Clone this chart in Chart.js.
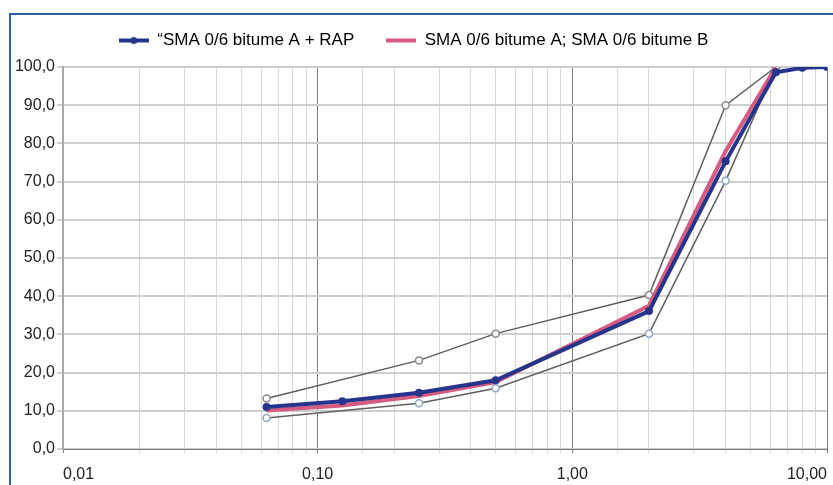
<!DOCTYPE html>
<html>
<head>
<meta charset="utf-8">
<script src="https://cdn.jsdelivr.net/npm/chart.js@4"></script>
<style>
  html, body { margin: 0; padding: 0; background: #fff; }
  #wrap { position: relative; width: 833px; height: 485px; overflow: hidden; }
  #frame { position: absolute; left: 9px; top: 13px; width: 900px; height: 600px;
           border-left: 2px solid #2a62a0; border-top: 2px solid #2a62a0; box-sizing: border-box; }
  canvas { position: absolute; left: 0; top: 0; }
</style>
</head>
<body>
<div id="wrap">
  <div id="frame"></div>
  <canvas id="c" width="833" height="485"></canvas>
</div>
<script>
// Sieve sizes (mm)
const sieves = [0.063, 0.125, 0.25, 0.5, 2, 4, 6.3, 8, 10];
const envSieves = [0.063, 0.25, 0.5, 2, 4, 6.3];

// Passing (%)
const rapMix = [11.0, 12.5, 14.7, 18.0, 36.1, 75.3, 98.6, 99.8, 100];
const bitumeAB = [10.1, 11.4, 13.9, 17.5, 37.5, 78.0, 100];
const upperEnv = [13.2, 23.2, 30.2, 40.3, 90.0, 100];
const lowerEnv = [8.1, 12.0, 15.9, 30.2, 70.2, 100];

const seriesNames = ['\u201cSMA 0/6 bitume A + RAP', 'SMA 0/6 bitume A; SMA 0/6 bitume B'];
const xTickLabels = { 0.01: '0,01', 0.1: '0,10', 1: '1,00', 10: '10,00' };

const toXY = (xs, ys) => ys.map((y, i) => ({ x: xs[i], y: y }));

function legendIcon(color, withDot) {
  const c = document.createElement('canvas');
  c.width = 30; c.height = 10;
  const g = c.getContext('2d');
  g.strokeStyle = color; g.lineWidth = 4;
  g.beginPath(); g.moveTo(0, 5); g.lineTo(30, 5); g.stroke();
  if (withDot) { g.fillStyle = color; g.beginPath(); g.arc(15, 5, 3.5, 0, Math.PI * 2); g.fill(); }
  return c;
}
const iconBlue = legendIcon('#27348b', true);
const iconPink = legendIcon('#d55b80', false);

const FONT = "'Liberation Sans', Arial, sans-serif";

const legendGap = {
  id: 'legendGap',
  afterInit(chart) {
    const lg = chart.legend;
    if (!lg) return;
    const orig = lg.fit.bind(lg);
    lg.fit = function () { orig(); this.height += 8; };
  }
};

new Chart(document.getElementById('c'), {
  type: 'line',
  plugins: [legendGap],
  data: {
    datasets: [
      {
        label: seriesNames[0],
        data: toXY(sieves, rapMix),
        borderColor: '#27348b', backgroundColor: '#27348b',
        borderWidth: 4, pointRadius: 4, pointBackgroundColor: '#27348b', pointBorderWidth: 0,
        order: 1
      },
      {
        label: seriesNames[1],
        data: toXY(sieves, bitumeAB),
        borderColor: '#d55b80', backgroundColor: '#d55b80',
        borderWidth: 4, pointRadius: 0,
        order: 2
      },
      {
        label: 'upper',
        data: toXY(envSieves, upperEnv),
        borderColor: '#5f5f5f', borderWidth: 1.5,
        pointRadius: 3.5, pointBackgroundColor: '#ffffff', pointBorderColor: '#8a8a8a', pointBorderWidth: 1.5,
        order: 3
      },
      {
        label: 'lower',
        data: toXY(envSieves, lowerEnv),
        borderColor: '#5f5f5f', borderWidth: 1.5,
        pointRadius: 3.5, pointBackgroundColor: '#ffffff', pointBorderColor: '#8da6c8', pointBorderWidth: 1.5,
        order: 4
      }
    ]
  },
  options: {
    responsive: false,
    animation: false,
    layout: { padding: { top: 0, right: 6, left: 0, bottom: 0 } },
    plugins: {
      tooltip: { enabled: false },
      legend: {
        position: 'top',
        labels: {
          font: { family: FONT, size: 17 },
          color: '#222',
          padding: 32,
          usePointStyle: true,
          pointStyleWidth: 30,
          boxHeight: 10,
          generateLabels: (chart) => [
            { text: seriesNames[0], pointStyle: iconBlue, fillStyle: '#27348b', strokeStyle: '#27348b', lineWidth: 0, datasetIndex: 0, hidden: false },
            { text: seriesNames[1], pointStyle: iconPink, fillStyle: '#d55b80', strokeStyle: '#d55b80', lineWidth: 0, datasetIndex: 1, hidden: false }
          ]
        }
      }
    },
    scales: {
      x: {
        type: 'logarithmic',
        min: 0.01, max: 10,
        afterFit: (s) => { s.height = 36; s.paddingLeft = 0; s.paddingRight = 0; },
        border: { display: true, color: '#7a7a7a', width: 1 },
        grid: {
          color: (ctx) => {
            const v = ctx.tick ? ctx.tick.value : 0;
            const l = Math.log10(v);
            return Math.abs(l - Math.round(l)) < 1e-6 ? '#7d7d7d' : '#d9d9d9';
          },
          lineWidth: 1,
          tickLength: 4,
          drawTicks: true
        },
        ticks: {
          autoSkip: false,
          maxRotation: 0,
          align: 'inner',
          padding: 12,
          font: { family: FONT, size: 16 },
          color: '#222',
          callback: function (value) {
            for (const k in xTickLabels) {
              if (Math.abs(parseFloat(k) - value) < 1e-9) return xTickLabels[k];
            }
            return '';
          }
        }
      },
      y: {
        min: 0, max: 100,
        afterFit: (s) => { s.width = 63; },
        border: { display: true, color: '#a8a8a8', width: 2 },
        grid: { color: '#cfcfcf', lineWidth: 2, tickLength: 6 },
        ticks: {
          stepSize: 10,
          padding: 2,
          font: { family: FONT, size: 16 },
          color: '#222',
          callback: (v) => v.toFixed(1).replace('.', ',')
        }
      }
    }
  }
});
</script>
</body>
</html>
